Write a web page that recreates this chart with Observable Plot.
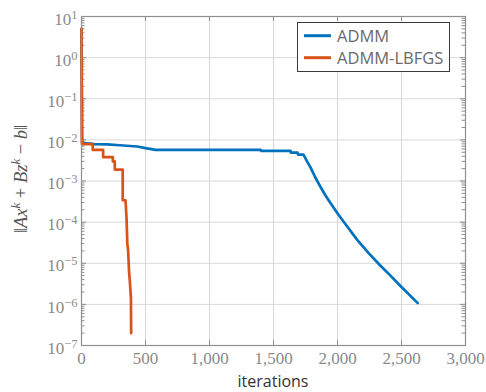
<!DOCTYPE html>
<html>
<head>
<meta charset="utf-8">
<script src="https://cdn.jsdelivr.net/npm/d3@7"></script>
<script src="https://cdn.jsdelivr.net/npm/@observablehq/plot@0.6"></script>
<style>
  html, body { margin: 0; padding: 0; background: #fff; }
  #chart svg { display: block; }
  #chart svg .sans { font-family: "Open Sans", sans-serif; }
  #chart svg .serif { font-family: "Liberation Serif", serif; }
</style>
</head>
<body>
<div id="chart"></div>
<script>
// Residual history ‖Ax^k + Bz^k − b‖ per iteration for the two solvers
const seriesNames = ["ADMM", "ADMM-LBFGS"];
const seriesColors = ["#0072BD", "#D95319"];

const admmIter = [0, 5, 100, 200, 300, 435, 500, 578, 1000, 1400, 1405, 1633, 1636, 1688, 1692, 1734,
                  1760, 1789, 1825, 1867, 1905, 1945, 2005, 2076, 2154, 2245, 2336, 2414, 2492, 2627];
const admmRes = [5.0, 0.0085, 0.0079, 0.0078, 0.0074, 0.0069, 0.0063, 0.0057, 0.0057, 0.0057, 0.0054, 0.0054,
                 0.0049, 0.0049, 0.0044, 0.0044, 0.0031, 0.00215, 0.00125, 7.2e-4, 4.5e-4, 2.9e-4, 1.55e-4,
                 7.8e-5, 3.7e-5, 1.74e-5, 8.7e-6, 5.0e-6, 2.8e-6, 1.07e-6];

const lbfgsIter = [0, 3, 88, 88, 169, 169, 245, 245, 260, 260, 322, 322, 344, 352, 358, 364, 372, 377, 386, 388];
const lbfgsRes = [5.0, 0.0079, 0.0079, 0.0057, 0.0057, 0.0038, 0.0038, 0.0030, 0.0030, 0.0019, 0.0019, 3.4e-4,
                  3.4e-4, 1.2e-4, 3.0e-5, 2.1e-5, 6.0e-6, 3.9e-6, 1.5e-6, 2.0e-7];

const xTicks = [0, 500, 1000, 1500, 2000, 2500, 3000];
const yExponents = [-7, -6, -5, -4, -3, -2, -1, 0, 1];

const yTicks = yExponents.map(e => Math.pow(10, e));
const yMinor = yExponents.slice(0, -1).flatMap(e => d3.range(2, 10).map(k => k * Math.pow(10, e)));

const admm = admmIter.map((it, i) => ({it, r: admmRes[i]}));
const lbfgs = lbfgsIter.map((it, i) => ({it, r: lbfgsRes[i]}));

const W = 486, H = 392, mL = 81, mR = 21, mT = 16, mB = 47;
const fw = W - mL - mR, fh = H - mT - mB;
const axisGray = "#8f8f8f";
const gridGray = "#d8d8d8";

const chart = Plot.plot({
  width: W,
  height: H,
  marginLeft: mL,
  marginRight: mR,
  marginTop: mT,
  marginBottom: mB,
  style: {background: "#fff", fontFamily: "Liberation Serif", fontSize: "17px", color: "#8a8a8a", overflow: "visible"},
  x: {domain: [0, 3000], label: null},
  y: {type: "log", domain: [1e-7, 10], label: null},
  marks: [
    Plot.gridX(xTicks, {stroke: gridGray, strokeOpacity: 1, strokeWidth: 1}),
    Plot.gridY(yTicks, {stroke: gridGray, strokeOpacity: 1, strokeWidth: 1}),
    // inward tick marks on all four sides
    Plot.tickX(xTicks, {x: d => d, insetTop: fh - 5, stroke: axisGray}),
    Plot.tickX(xTicks, {x: d => d, insetBottom: fh - 5, stroke: axisGray}),
    Plot.tickY(yTicks, {y: d => d, insetRight: fw - 5, stroke: axisGray}),
    Plot.tickY(yTicks, {y: d => d, insetLeft: fw - 5, stroke: axisGray}),
    Plot.tickY(yMinor, {y: d => d, insetRight: fw - 3.5, stroke: axisGray}),
    Plot.tickY(yMinor, {y: d => d, insetLeft: fw - 3.5, stroke: axisGray}),
    Plot.axisX(xTicks, {tickSize: 0, tickPadding: 6, tickFormat: d3.format(","), label: null}),
    Plot.axisY(yTicks, {tickSize: 0, tickPadding: 4, tickFormat: d => "10^" + Math.round(Math.log10(d)), label: null}),
    Plot.line(admm, {x: "it", y: "r", stroke: seriesColors[0], strokeWidth: 2.7}),
    Plot.line(lbfgs, {x: "it", y: "r", stroke: seriesColors[1], strokeWidth: 2.7}),
    Plot.frame({stroke: axisGray, strokeWidth: 1.2})
  ]
});

const svg = d3.select(chart);
svg.selectAll('g[aria-label$="tick label"]').classed("serif", true);

// power-of-ten tick labels with raised exponents
svg.selectAll('g[aria-label="y-axis tick label"] text').each(function () {
  const [base, exp] = this.textContent.split("^");
  const t = d3.select(this);
  t.text(null).attr("y", "0.48em").attr("dy", null);
  t.append("tspan").text(base);
  t.append("tspan").attr("dy", "-6").attr("font-size", "12.5px").text(exp.replace("-", "\u2212"));
});

// y-axis title: ‖Ax^k + Bz^k − b‖
const yl = svg.append("text")
  .attr("class", "serif")
  .attr("transform", "translate(27,179) rotate(-90)")
  .attr("text-anchor", "middle")
  .attr("font-size", "18.5px")
  .attr("fill", "#555");
const parts = [
  ["\u2016", "n"], ["A", "i"], ["x", "i"], ["k", "s"], [" + ", "n"], ["B", "i"], ["z", "i"], ["k", "s"],
  [" \u2212 ", "n"], ["b", "i"], ["\u2016", "n"]
];
let raised = false;
for (const [str, kind] of parts) {
  const ts = yl.append("tspan").text(str);
  if (kind === "i" || kind === "s") ts.attr("font-style", "italic");
  if (kind === "s") { ts.attr("font-size", "13px").attr("dy", -7); raised = true; }
  else if (raised) { ts.attr("dy", 7); raised = false; }
}

// x-axis title
svg.append("text")
  .attr("class", "sans")
  .attr("x", mL + fw / 2)
  .attr("y", 387)
  .attr("text-anchor", "middle")
  .attr("font-size", "16px")
  .attr("fill", "#333")
  .text("iterations");

// legend box
const lg = svg.append("g").attr("class", "sans").attr("font-size", "16.5px").attr("text-anchor", "start");
lg.append("rect").attr("x", 297.5).attr("y", 22.5).attr("width", 152).attr("height", 49)
  .attr("fill", "#fff").attr("stroke", "#3a3a3a").attr("stroke-width", 1);
seriesNames.forEach((name, i) => {
  const cy = 35.7 + i * 22;
  lg.append("line").attr("x1", 304).attr("x2", 331).attr("y1", cy).attr("y2", cy)
    .attr("stroke", seriesColors[i]).attr("stroke-width", 3);
  lg.append("text").attr("class", "sans").attr("x", 337).attr("y", cy + 6).attr("fill", "#6a6a6a").text(name);
});

document.getElementById("chart").appendChild(chart);
</script>
</body>
</html>
